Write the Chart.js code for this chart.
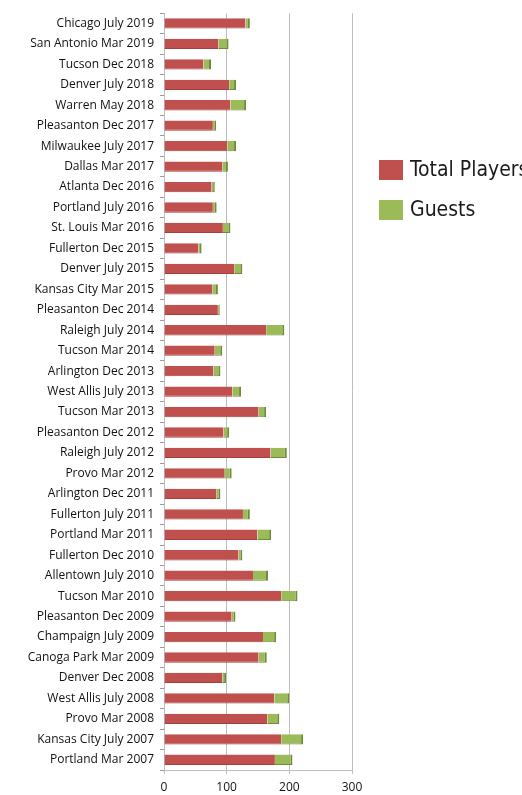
<!DOCTYPE html>
<html>
<head>
<meta charset="utf-8">
<script src="https://cdn.jsdelivr.net/npm/chart.js@4/dist/chart.umd.min.js"></script>
<style>
  html, body { margin: 0; padding: 0; background: #ffffff; }
  #wrap { position: relative; width: 522px; height: 795px; }
</style>
</head>
<body>
<div id="wrap"><canvas id="c" width="522" height="795"></canvas></div>
<script>
const categories = [
  "Chicago July 2019", "San Antonio Mar 2019", "Tucson Dec 2018", "Denver July 2018",
  "Warren May 2018", "Pleasanton Dec 2017", "Milwaukee July 2017", "Dallas Mar 2017",
  "Atlanta Dec 2016", "Portland July 2016", "St. Louis Mar 2016", "Fullerton Dec 2015",
  "Denver July 2015", "Kansas City Mar 2015", "Pleasanton Dec 2014", "Raleigh July 2014",
  "Tucson Mar 2014", "Arlington Dec 2013", "West Allis July 2013", "Tucson Mar 2013",
  "Pleasanton Dec 2012", "Raleigh July 2012", "Provo Mar 2012", "Arlington Dec 2011",
  "Fullerton July 2011", "Portland Mar 2011", "Fullerton Dec 2010", "Allentown July 2010",
  "Tucson Mar 2010", "Pleasanton Dec 2009", "Champaign July 2009", "Canoga Park Mar 2009",
  "Denver Dec 2008", "West Allis July 2008", "Provo Mar 2008", "Kansas City July 2007",
  "Portland Mar 2007"
];
const totalPlayers = [
  130, 87, 63, 104, 106, 78, 101, 93, 76, 78, 94, 55,
  112, 77, 86, 163, 81, 79, 109, 151, 95, 170, 97, 84,
  126, 149, 119, 142, 187, 108, 158, 151, 93, 176, 165, 187, 177
];
const guests = [
  7, 16, 12, 11, 25, 5, 14, 9, 5, 6, 12, 5,
  13, 9, 3, 29, 12, 11, 14, 12, 9, 26, 11, 6,
  11, 22, 6, 24, 26, 6, 21, 13, 6, 24, 19, 35, 28
];
const seriesNames = ["Total Players", "Guests"];
const xTicks = [0, 100, 200, 300];

const RED = "#C0504D";
const GREEN = "#9BBB59";

const legendPlugin = {
  id: "sideLegend",
  afterDraw(chart) {
    const ctx = chart.ctx;
    ctx.save();
    const items = [[seriesNames[0], RED, 170], [seriesNames[1], GREEN, 210]];
    ctx.font = '21px "Liberation Sans Narrow", "DejaVu Sans Condensed", sans-serif';
    ctx.textBaseline = "middle";
    ctx.textAlign = "left";
    for (const [label, color, y] of items) {
      ctx.fillStyle = color;
      ctx.fillRect(379, y - 10, 24, 20);
      ctx.fillStyle = "#1a1a1a";
      ctx.fillText(label, 410, y + 1);
    }
    ctx.restore();
  }
};

new Chart(document.getElementById("c"), {
  type: "bar",
  data: {
    labels: categories,
    datasets: [
      { label: seriesNames[0], data: totalPlayers, backgroundColor: RED,
        borderColor: "#a33f3c", borderWidth: { right: 0, top: 0, bottom: 1, left: 0 },
        categoryPercentage: 0.9, barPercentage: 0.56 },
      { label: seriesNames[1], data: guests, backgroundColor: GREEN,
        borderColor: "#6f8a3a", borderWidth: { right: 2, top: 0, bottom: 1, left: 0 },
        categoryPercentage: 0.9, barPercentage: 0.56 }
    ]
  },
  options: {
    indexAxis: "y",
    responsive: false,
    animation: false,
    devicePixelRatio: 1,
    layout: { padding: { left: 4, right: 170, top: 12, bottom: 0 } },
    plugins: { legend: { display: false }, tooltip: { enabled: false } },
    scales: {
      x: {
        stacked: true,
        min: 0, max: 300,
        afterBuildTicks(scale) { scale.ticks = xTicks.map(v => ({ value: v })); },
        afterFit(scale) { scale.height = 25; },
        ticks: { color: "#111", font: { family: "'Open Sans', sans-serif", size: 12 }, padding: 6 },
        grid: { color: "#bdbdbd", lineWidth: 1, tickLength: 4, drawTicks: true },
        border: { display: true, color: "#bdbdbd" }
      },
      y: {
        stacked: true,
        afterFit(scale) { scale.width = 160; },
        ticks: { color: "#111", font: { family: "'Open Sans', sans-serif", size: 12 }, padding: 6, autoSkip: false },
        grid: { offset: true, drawOnChartArea: false, color: "#9a9a9a", tickLength: 4 },
        border: { display: true, color: "#bdbdbd" }
      }
    }
  },
  plugins: [legendPlugin]
});
</script>
</body>
</html>
